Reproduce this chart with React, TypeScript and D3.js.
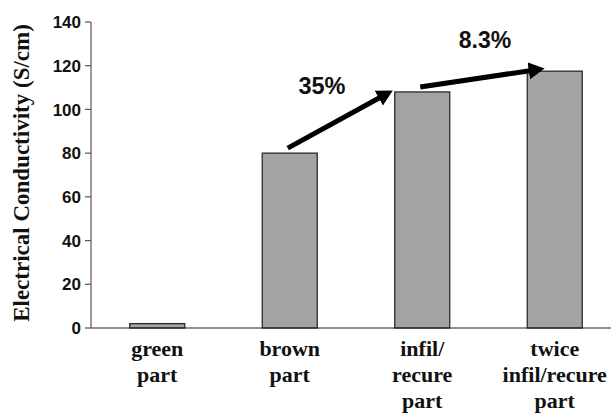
import React from "react";
import * as d3 from "d3";

const categories = ["green part", "brown part", "infil/ recure part", "twice infil/recure part"];
const categoryLines = [["green", "part"], ["brown", "part"], ["infil/", "recure", "part"], ["twice", "infil/recure", "part"]];
const values = [2, 80, 108, 117.5];
const yTicks = [0, 20, 40, 60, 80, 100, 120, 140];
const annotations = [
  { from: 1, to: 2, label: "35%" },
  { from: 2, to: 3, label: "8.3%" },
];

export default function App() {
  const W = 611, H = 415;
  const x0 = 91, y0 = 328, yTop = 22;
  const y = d3.scaleLinear().domain([0, 140]).range([y0, yTop]);
  const x = d3.scaleBand<string>().domain(categories).range([x0, x0 + 530]).paddingInner(0.585).paddingOuter(0.2925);
  const bw = x.bandwidth();
  const cx = (i: number) => (x(categories[i]) as number) + bw / 2;

  return (
    <svg width={W} height={H} style={{ position: "absolute", left: 0, top: 0 }}>
      <defs>
        <marker id="ah" markerWidth="3.2" markerHeight="3.4" refX="0.9" refY="1.7" orient="auto" markerUnits="strokeWidth">
          <path d="M0,0 L3.2,1.7 L0,3.4 Z" fill="#000" />
        </marker>
      </defs>
      <rect width={W} height={H} fill="#fff" />
      {values.map((v, i) => (
        <rect key={i} x={x(categories[i])} y={y(v)} width={bw} height={y0 - y(v)} fill="#a3a3a3" stroke="#2a2a2a" strokeWidth={1.3} />
      ))}
      <line x1={x0} x2={W} y1={y0} y2={y0} stroke="#222" strokeWidth={1.2} />
      <line x1={x0} x2={x0} y1={yTop} y2={y0} stroke="#555" strokeWidth={1.2} />
      {yTicks.map((t) => (
        <g key={t}>
          <line x1={x0 - 6} x2={x0} y1={y(t)} y2={y(t)} stroke="#555" strokeWidth={1.2} />
          <text x={x0 - 10} y={y(t)} dy="0.36em" textAnchor="end" fontFamily="Liberation Sans, Arial, sans-serif" fontWeight="bold" fontSize={17} fill="#111">{t}</text>
        </g>
      ))}
      <text transform={`translate(29,${(y0 + yTop) / 2 - 2}) rotate(-90)`} textAnchor="middle" fontFamily="Liberation Serif, Times New Roman, serif" fontWeight="bold" fontSize={23} fill="#111">Electrical Conductivity (S/cm)</text>
      {categoryLines.map((lines, i) => (
        <text key={i} textAnchor="middle" fontFamily="Liberation Serif, Times New Roman, serif" fontWeight="bold" fontSize={22} fill="#111">
          {lines.map((l, j) => (
            <tspan key={j} x={cx(i)} y={356 + j * 26}>{l}</tspan>
          ))}
        </text>
      ))}
      {annotations.map((a, k) => {
        const sx = cx(a.from) - 2;
        const sy = y(values[a.from]) - 5;
        const ex = (x(categories[a.to]) as number) - (k === 0 ? 12 : -6);
        const ey = y(values[a.to]) + (k === 0 ? 4 : -1);
        return (
          <line key={k} x1={sx} y1={sy} x2={ex} y2={ey} stroke="#000" strokeWidth={5} markerEnd="url(#ah)" />
        );
      })}
      <text x={322} y={94} textAnchor="middle" fontFamily="Liberation Sans, Arial, sans-serif" fontWeight="bold" fontSize={23.5} fill="#111">{annotations[0].label}</text>
      <text x={485} y={48} textAnchor="middle" fontFamily="Liberation Sans, Arial, sans-serif" fontWeight="bold" fontSize={23} fill="#111">{annotations[1].label}</text>
    </svg>
  );
}
